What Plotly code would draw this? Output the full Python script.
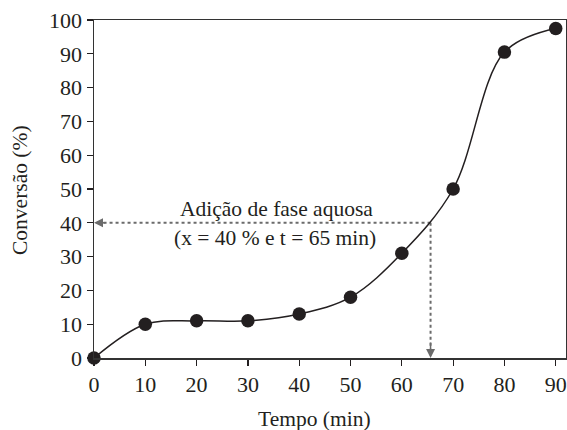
import plotly.graph_objects as go

tempo = [0, 10, 20, 30, 40, 50, 60, 70, 80, 90]
conversao = [0, 10, 11, 11, 13, 18, 31, 50, 90.5, 97.5]
x_ticks = [0, 10, 20, 30, 40, 50, 60, 70, 80, 90]
y_ticks = [0, 10, 20, 30, 40, 50, 60, 70, 80, 90, 100]
t_add = 65.6
x_add = 40
label_1 = "Adição de fase aquosa"
label_2 = "(x = 40 % e t = 65 min)"

FONT = "Liberation Serif"
INK = "#231f20"
GREY = "#6b6b6b"

W, H = 567, 430
L, R, T, B = 94, 1, 20, 72
pw, ph = W - L - R, H - T - B


def px(xp):
    return (xp - L) / pw


def py(yp):
    return (H - yp - B) / ph


fig = go.Figure()

# dotted guide lines
fig.add_trace(go.Scatter(x=[t_add, 0.6], y=[x_add, x_add], mode="lines",
                         line=dict(color=GREY, width=2, dash="dot"),
                         hoverinfo="skip", showlegend=False))
fig.add_trace(go.Scatter(x=[t_add, t_add], y=[x_add, 1.2], mode="lines",
                         line=dict(color=GREY, width=2, dash="dot"),
                         hoverinfo="skip", showlegend=False))

# smooth curve
fig.add_trace(go.Scatter(x=tempo, y=conversao, mode="lines",
                         line=dict(color=INK, width=1.5, shape="spline", smoothing=1),
                         hoverinfo="skip", showlegend=False, cliponaxis=False))
# markers
fig.add_trace(go.Scatter(x=tempo, y=conversao, mode="markers",
                         marker=dict(color=INK, size=13.5, line=dict(width=0)),
                         showlegend=False, cliponaxis=False))

txt = dict(family=FONT, size=21.5, color=INK)
annotations = [
    dict(x=0, y=x_add, ax=2.5, ay=x_add, axref="x", ayref="y", xref="x", yref="y",
         text="", showarrow=True, arrowhead=2, arrowsize=1.2, arrowwidth=1.5,
         arrowcolor=GREY, standoff=0),
    dict(x=t_add, y=0, ax=t_add, ay=5, axref="x", ayref="y", xref="x", yref="y",
         text="", showarrow=True, arrowhead=2, arrowsize=1.2, arrowwidth=1.5,
         arrowcolor=GREY, standoff=0),
    dict(x=px(276), y=py(209), xref="paper", yref="paper", text=label_1, showarrow=False,
         xanchor="center", yanchor="middle", font=txt),
    dict(x=px(275), y=py(238), xref="paper", yref="paper", text=label_2, showarrow=False,
         xanchor="center", yanchor="middle", font=txt),
    dict(x=px(314), y=py(419), xref="paper", yref="paper", text="Tempo (min)",
         showarrow=False, xanchor="center", yanchor="middle", font=txt),
    dict(x=px(20), y=py(190), xref="paper", yref="paper", text="Conversão (%)",
         showarrow=False, textangle=-90, xanchor="center", yanchor="middle", font=txt),
]

axis_common = dict(ticks="outside", ticklen=6, tickcolor=INK, tickwidth=1.2,
                   showline=True, linecolor="#333333", linewidth=1.5, mirror=True,
                   showgrid=False, zeroline=False,
                   tickfont=dict(family=FONT, size=22, color=INK))

fig.update_layout(
    width=W, height=H,
    margin=dict(l=L, r=R, t=T, b=B, autoexpand=False),
    plot_bgcolor="white", paper_bgcolor="white",
    font=dict(family=FONT, size=21.5, color=INK),
    annotations=annotations,
    hovermode=False,
    xaxis=dict(range=[0, 92], tickvals=x_ticks, **axis_common),
    yaxis=dict(range=[0, 100], tickvals=y_ticks, **axis_common),
)

fig.write_html("out.html",
               config={"displayModeBar": False, "staticPlot": True},
               post_script="document.body.style.margin='0';document.body.style.overflow='hidden';")
